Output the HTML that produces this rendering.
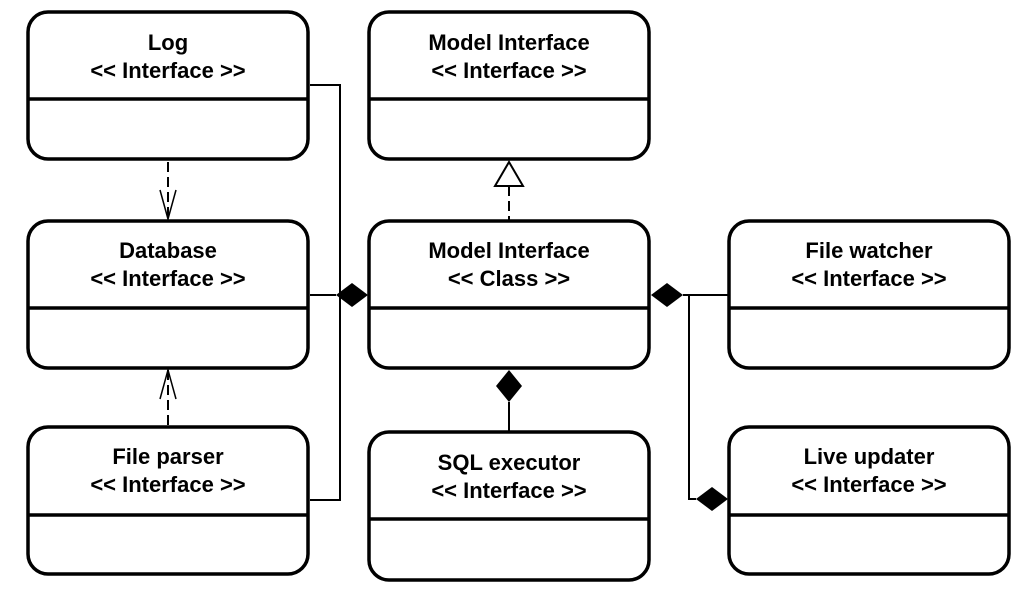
<!DOCTYPE html>
<html><head><meta charset="utf-8"><style>
html,body{margin:0;padding:0;background:#fff;}
svg{display:block;}
text{font-family:"Liberation Sans",Arial,sans-serif;font-weight:bold;font-size:22px;text-anchor:middle;fill:#000;}
</style></head><body>
<svg width="1032" height="589" viewBox="0 0 1032 589" xmlns="http://www.w3.org/2000/svg">
<g fill="none" stroke="#000" stroke-width="3.5">
<rect x="28" y="12" width="280" height="147" rx="20"/><line x1="28" y1="99" x2="308" y2="99"/>
<rect x="369" y="12" width="280" height="147" rx="20"/><line x1="369" y1="99" x2="649" y2="99"/>
<rect x="28" y="221" width="280" height="147" rx="20"/><line x1="28" y1="308" x2="308" y2="308"/>
<rect x="369" y="221" width="280" height="147" rx="20"/><line x1="369" y1="308" x2="649" y2="308"/>
<rect x="729" y="221" width="280" height="147" rx="20"/><line x1="729" y1="308" x2="1009" y2="308"/>
<rect x="28" y="427" width="280" height="147" rx="20"/><line x1="28" y1="515" x2="308" y2="515"/>
<rect x="369" y="432" width="280" height="148" rx="20"/><line x1="369" y1="519" x2="649" y2="519"/>
<rect x="729" y="427" width="280" height="147" rx="20"/><line x1="729" y1="515" x2="1009" y2="515"/>
</g>
<g fill="none" stroke="#000" stroke-width="2">
<polyline points="310,85 340,85 340,500 310,500"/>
<line x1="310" y1="295" x2="336" y2="295"/>
<polyline points="729,295 689,295 689,499 696,499"/>
<line x1="683" y1="295" x2="689" y2="295"/>
<line x1="509" y1="402" x2="509" y2="432"/>
<line x1="168" y1="162" x2="168" y2="219" stroke-dasharray="10,5"/>
<polyline points="160,190 168,219 176,190" stroke-width="1.5"/>
<line x1="168" y1="370" x2="168" y2="426" stroke-dasharray="10,5"/>
<polyline points="160,399 168,370 176,399" stroke-width="1.5"/>
<line x1="509" y1="186" x2="509" y2="220" stroke-dasharray="10,5"/>
</g>
<polygon points="509,162 495,186 523,186" fill="#fff" stroke="#000" stroke-width="2"/>
<polygon points="336,295 352,283 368,295 352,307" fill="#000"/>
<polygon points="651,295 667,283 683,295 667,307" fill="#000"/>
<polygon points="696,499 712,487 728,499 712,511" fill="#000"/>
<polygon points="509,370 522,386 509,402 496,386" fill="#000"/>
<text x="168" y="50">Log</text><text x="168" y="78">&lt;&lt; Interface &gt;&gt;</text>
<text x="509" y="50">Model Interface</text><text x="509" y="78">&lt;&lt; Interface &gt;&gt;</text>
<text x="168" y="258">Database</text><text x="168" y="286">&lt;&lt; Interface &gt;&gt;</text>
<text x="509" y="258">Model Interface</text><text x="509" y="286">&lt;&lt; Class &gt;&gt;</text>
<text x="869" y="258">File watcher</text><text x="869" y="286">&lt;&lt; Interface &gt;&gt;</text>
<text x="168" y="464">File parser</text><text x="168" y="492">&lt;&lt; Interface &gt;&gt;</text>
<text x="509" y="470">SQL executor</text><text x="509" y="498">&lt;&lt; Interface &gt;&gt;</text>
<text x="869" y="464">Live updater</text><text x="869" y="492">&lt;&lt; Interface &gt;&gt;</text>
</svg>
</body></html>
